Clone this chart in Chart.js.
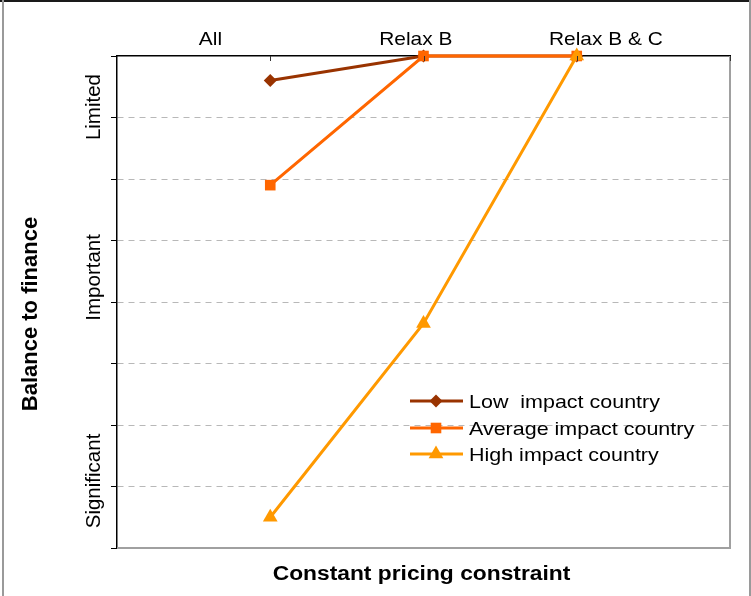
<!DOCTYPE html>
<html>
<head>
<meta charset="utf-8">
<script src="https://cdn.jsdelivr.net/npm/chart.js@4/dist/chart.umd.min.js"></script>
<style>
  html, body { margin: 0; padding: 0; background: #ffffff; }
  #wrap { width: 751px; height: 596px; position: relative; }
  canvas { display: block; }
</style>
</head>
<body>
<div id="wrap"><canvas id="chart" width="751" height="596"></canvas></div>
<script>
// Scenarios along the horizontal axis and where each one sits on it
const scenarios = ['All', 'Relax B', 'Relax B & C'];
const scenarioX = [1, 2, 3];

// Balance to finance per country group (0 = most significant, 8 = limited)
const lowImpact = [7.6, 8, 8];
const averageImpact = [5.9, 8, 8];
const highImpact = [0.5, 3.65, 8];

const seriesNames = ['Low  impact country', 'Average impact country', 'High impact country'];

// Qualitative level labels on the vertical axis and the levels they mark
const levelLabels = ['Limited', 'Important', 'Significant'];
const levelValues = [7.17, 4.4, 1.09];

// Where the scenario captions are centred along the top axis
const captionPos = [0.61, 1.95, 3.19];

const COLORS = ['#993300', '#ff6600', '#ff9900'];
const STYLES = ['rectRot', 'rect', 'triangle'];
const RADII = [6.5, 7.5, 8.5];
const FONT = '"Liberation Sans", Arial, Helvetica, sans-serif';

function pts(values) {
  return scenarioX.map((x, i) => ({ x: x, y: values[i] }));
}

function marker(ctx, style, r, x, y, color) {
  ctx.save();
  ctx.fillStyle = color;
  ctx.beginPath();
  if (style === 'rectRot') {
    ctx.moveTo(x - r, y); ctx.lineTo(x, y - r); ctx.lineTo(x + r, y); ctx.lineTo(x, y + r);
  } else if (style === 'rect') {
    const s = r * Math.SQRT1_2;
    ctx.rect(x - s, y - s, 2 * s, 2 * s);
  } else {
    ctx.moveTo(x, y - r);
    ctx.lineTo(x + 0.866 * r, y + 0.5 * r);
    ctx.lineTo(x - 0.866 * r, y + 0.5 * r);
  }
  ctx.closePath();
  ctx.fill();
  ctx.restore();
}

function wideText(ctx, text, x, y, align, sx) {
  ctx.save();
  ctx.translate(x, y);
  ctx.scale(sx, 1);
  ctx.textAlign = align;
  ctx.textBaseline = 'alphabetic';
  ctx.fillText(text, 0, 0);
  ctx.restore();
}

function upText(ctx, text, x, y) {
  ctx.save();
  ctx.translate(x, y);
  ctx.rotate(-Math.PI / 2);
  ctx.textAlign = 'center';
  ctx.textBaseline = 'alphabetic';
  ctx.fillText(text, 0, 0);
  ctx.restore();
}

const decorations = {
  id: 'decorations',
  beforeDraw(chart) {
    const ctx = chart.ctx;
    ctx.save();
    ctx.fillStyle = '#ffffff';
    ctx.fillRect(0, 0, chart.width, chart.height);
    ctx.restore();
  },
  afterDraw(chart) {
    const ctx = chart.ctx;
    const area = chart.chartArea;
    const xs = chart.scales.x;
    const ys = chart.scales.y;

    ctx.save();
    // outer frame
    ctx.fillStyle = '#1a1a1a';
    ctx.fillRect(0, 0, chart.width, 2);
    ctx.fillStyle = '#9a9a9a';
    ctx.fillRect(2, 0, 2, chart.height);
    ctx.fillRect(chart.width - 2, 0, 2, chart.height);

    // right and bottom edges of the plot
    ctx.strokeStyle = '#a0a0a0';
    ctx.lineWidth = 2;
    ctx.beginPath();
    ctx.moveTo(area.right, area.top);
    ctx.lineTo(area.right, area.bottom);
    ctx.lineTo(area.left, area.bottom);
    ctx.stroke();

    // small inward ticks on the top axis
    ctx.strokeStyle = '#333333';
    ctx.lineWidth = 1;
    ctx.beginPath();
    scenarioX.concat([4]).forEach(v => {
      const px = Math.round(xs.getPixelForValue(v)) + 0.5;
      ctx.moveTo(px, area.top);
      ctx.lineTo(px, area.top + 5);
    });
    ctx.stroke();

    ctx.fillStyle = '#000000';
    // scenario captions
    ctx.font = '19px ' + FONT;
    scenarios.forEach((s, i) => {
      wideText(ctx, s, xs.getPixelForValue(captionPos[i]), 45, 'center', 1.1);
    });

    // level labels
    ctx.font = '20.5px ' + FONT;
    levelLabels.forEach((s, i) => {
      upText(ctx, s, 100, ys.getPixelForValue(levelValues[i]));
    });

    // axis titles
    ctx.font = 'bold 22px ' + FONT;
    upText(ctx, 'Balance to finance', 37, 314);
    ctx.font = 'bold 20px ' + FONT;
    wideText(ctx, 'Constant pricing constraint', (area.left + area.right) / 2 - 2, 580, 'center', 1.14);

    // legend
    const rows = [401, 428, 454];
    seriesNames.forEach((name, i) => {
      const y = rows[i];
      ctx.strokeStyle = COLORS[i];
      ctx.lineWidth = 3;
      ctx.beginPath();
      ctx.moveTo(410, y);
      ctx.lineTo(463, y);
      ctx.stroke();
      marker(ctx, STYLES[i], RADII[i], 436, y, COLORS[i]);
      ctx.fillStyle = '#000000';
      ctx.font = '19px ' + FONT;
      wideText(ctx, name, 469, y + 6.5, 'left', 1.13);
    });
    ctx.restore();
  }
};

function series(label, values, i, order) {
  return {
    label: label,
    data: pts(values),
    borderColor: COLORS[i],
    backgroundColor: COLORS[i],
    borderWidth: 3,
    pointStyle: STYLES[i],
    pointRadius: RADII[i],
    pointHoverRadius: RADII[i],
    pointBackgroundColor: COLORS[i],
    pointBorderColor: COLORS[i],
    pointBorderWidth: 0,
    tension: 0,
    clip: false,
    order: order
  };
}

new Chart(document.getElementById('chart'), {
  type: 'line',
  data: {
    datasets: [
      series(seriesNames[0], lowImpact, 0, 2),
      series(seriesNames[1], averageImpact, 1, 1),
      series(seriesNames[2], highImpact, 2, 0)
    ]
  },
  options: {
    responsive: false,
    animation: false,
    devicePixelRatio: 1,
    layout: { padding: { left: 0, top: 0, right: 21, bottom: 48 } },
    plugins: {
      legend: { display: false },
      tooltip: { enabled: false },
      title: { display: false }
    },
    scales: {
      x: {
        type: 'linear',
        position: 'top',
        min: 0,
        max: 4,
        ticks: { display: false },
        grid: { display: false, drawTicks: false },
        border: { display: true, color: '#000000', width: 1.5 },
        afterFit(scale) { scale.height = 56; }
      },
      y: {
        type: 'linear',
        position: 'left',
        min: 0,
        max: 8,
        ticks: { display: false, stepSize: 1 },
        grid: {
          drawOnChartArea: true,
          drawTicks: true,
          tickLength: 6,
          tickColor: '#000000',
          tickWidth: 1,
          tickBorderDash: [],
          lineWidth: 1,
          color: (c) => (c.tick && (c.tick.value === 0 || c.tick.value === 8)) ? 'rgba(0,0,0,0)' : '#b8b8b8'
        },
        border: { display: true, color: '#000000', width: 1.5, dash: [6, 5] },
        afterFit(scale) { scale.width = 117; }
      }
    }
  },
  plugins: [decorations]
});
</script>
</body>
</html>
